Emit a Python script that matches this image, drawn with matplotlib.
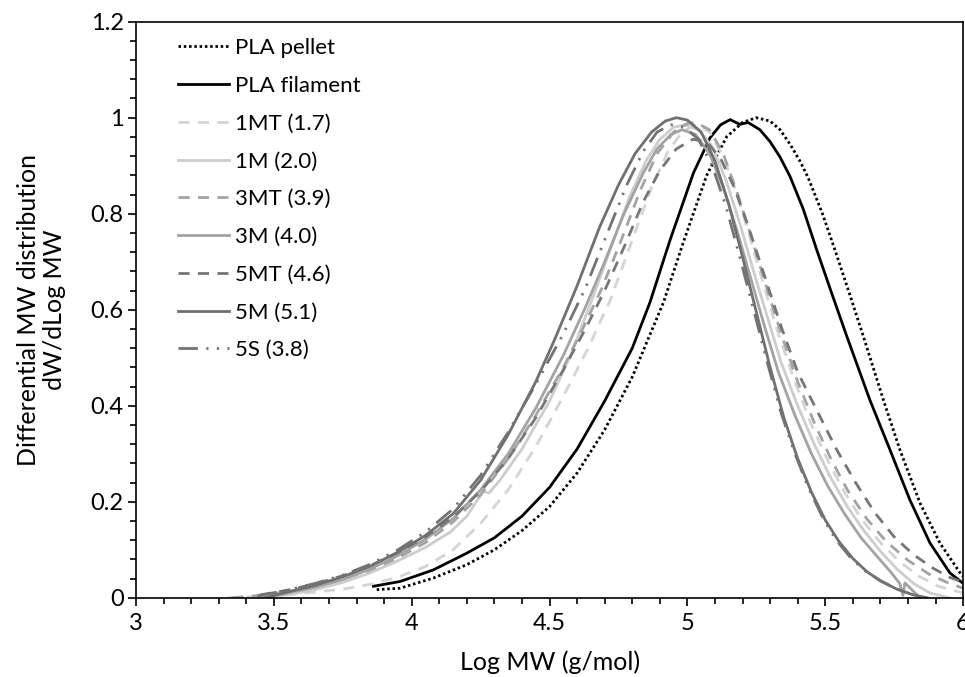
import matplotlib
matplotlib.use("Agg")
import matplotlib.pyplot as plt
from matplotlib.ticker import MultipleLocator

plt.rcParams['font.family'] = ['Lato', 'DejaVu Sans']

# curve data (log MW, dW/dLogMW)
pellet_x = [3.873, 3.958, 4.078, 4.2, 4.3, 4.4, 4.5, 4.6, 4.7, 4.8, 4.913, 4.985, 5.07, 5.142,
            5.2, 5.25, 5.3, 5.336, 5.372, 5.408, 5.438, 5.49, 5.535, 5.59, 5.638, 5.711, 5.771,
            5.844, 5.916, 5.989, 6.0]
pellet_y = [0.017, 0.02, 0.041, 0.069, 0.10, 0.14, 0.19, 0.26, 0.35, 0.46, 0.615, 0.74, 0.88, 0.96,
            0.99, 1.0, 0.993, 0.975, 0.945, 0.91, 0.875, 0.80, 0.725, 0.63, 0.545, 0.412, 0.308,
            0.197, 0.114, 0.052, 0.045]

filament_x = [3.861, 3.958, 4.078, 4.2, 4.3, 4.4, 4.5, 4.6, 4.7, 4.8, 4.864, 4.937, 5.022, 5.082,
              5.12, 5.155, 5.19, 5.22, 5.263, 5.3, 5.336, 5.372, 5.42, 5.469, 5.52, 5.578, 5.662,
              5.735, 5.807, 5.88, 5.952, 6.0]
filament_y = [0.024, 0.034, 0.058, 0.093, 0.125, 0.17, 0.23, 0.31, 0.41, 0.52, 0.615, 0.745, 0.885,
              0.958, 0.985, 0.996, 0.986, 0.99, 0.975, 0.95, 0.918, 0.878, 0.81, 0.725, 0.64, 0.545,
              0.412, 0.308, 0.204, 0.114, 0.052, 0.03]

mt1_x = [3.33, 3.45, 3.6, 3.75, 3.85, 3.95, 4.05, 4.15, 4.25, 4.35, 4.45, 4.55, 4.64, 4.72, 4.8,
         4.87, 4.93, 4.98, 5.03, 5.08, 5.13, 5.18, 5.23, 5.28, 5.33, 5.39, 5.45, 5.51, 5.57, 5.63,
         5.7, 5.77, 5.84, 5.91, 6.0]
mt1_y = [0.0, 0.003, 0.009, 0.018, 0.028, 0.043, 0.065, 0.10, 0.155, 0.225, 0.315, 0.42, 0.52, 0.62,
         0.745, 0.855, 0.93, 0.97, 0.985, 0.97, 0.92, 0.84, 0.745, 0.645, 0.55, 0.45, 0.36, 0.285,
         0.22, 0.165, 0.115, 0.075, 0.045, 0.024, 0.01]

m1_x = [3.45, 3.55, 3.65, 3.75, 3.85, 3.95, 4.05, 4.14, 4.2, 4.24, 4.26, 4.28, 4.32, 4.4, 4.5,
        4.58, 4.65, 4.72, 4.79, 4.85, 4.9, 4.95, 4.99, 5.04, 5.09, 5.14, 5.19, 5.24, 5.29, 5.34,
        5.4, 5.46, 5.52, 5.58, 5.64, 5.7, 5.76, 5.82, 5.88, 5.95]
m1_y = [0.0, 0.006, 0.017, 0.032, 0.052, 0.077, 0.105, 0.137, 0.17, 0.205, 0.222, 0.218, 0.245,
        0.31, 0.41, 0.51, 0.615, 0.725, 0.835, 0.91, 0.955, 0.98, 0.985, 0.975, 0.94, 0.87, 0.78,
        0.68, 0.585, 0.49, 0.40, 0.32, 0.25, 0.19, 0.14, 0.097, 0.06, 0.03, 0.01, 0.0]

mt3_x = [3.35, 3.45, 3.55, 3.65, 3.75, 3.85, 3.95, 4.05, 4.15, 4.25, 4.35, 4.45, 4.55, 4.62, 4.69,
         4.76, 4.83, 4.89, 4.95, 5.0, 5.03, 5.08, 5.13, 5.18, 5.23, 5.28, 5.34, 5.4, 5.46, 5.52,
         5.58, 5.65, 5.72, 5.8, 5.88, 5.95, 6.0]
mt3_y = [0.0, 0.005, 0.013, 0.024, 0.039, 0.058, 0.083, 0.115, 0.158, 0.215, 0.29, 0.38, 0.48, 0.56,
         0.645, 0.745, 0.85, 0.925, 0.97, 0.988, 0.99, 0.975, 0.925, 0.845, 0.755, 0.66, 0.55, 0.45,
         0.365, 0.29, 0.225, 0.165, 0.118, 0.078, 0.048, 0.03, 0.02]

m3_x = [3.45, 3.55, 3.65, 3.75, 3.85, 3.95, 4.05, 4.15, 4.25, 4.35, 4.45, 4.55, 4.63, 4.7, 4.77,
        4.84, 4.89, 4.94, 4.98, 5.03, 5.08, 5.13, 5.18, 5.23, 5.28, 5.33, 5.39, 5.45, 5.51, 5.57,
        5.63, 5.69, 5.74, 5.77, 5.782, 5.789, 5.844]
m3_y = [0.0, 0.01, 0.022, 0.038, 0.06, 0.088, 0.122, 0.165, 0.225, 0.30, 0.395, 0.505, 0.605, 0.70,
        0.80, 0.885, 0.935, 0.965, 0.975, 0.965, 0.925, 0.855, 0.765, 0.665, 0.565, 0.47, 0.38,
        0.30, 0.232, 0.175, 0.125, 0.085, 0.052, 0.03, 0.005, 0.031, 0.0]

mt5_x = [3.45, 3.55, 3.65, 3.75, 3.85, 3.95, 4.05, 4.15, 4.25, 4.35, 4.45, 4.55, 4.63, 4.7, 4.77,
         4.84, 4.9, 4.96, 5.02, 5.07, 5.12, 5.17, 5.22, 5.28, 5.34, 5.4, 5.47, 5.54, 5.61, 5.68,
         5.75, 5.82, 5.89, 5.95, 6.0]
mt5_y = [0.006, 0.016, 0.029, 0.046, 0.067, 0.094, 0.127, 0.168, 0.222, 0.29, 0.375, 0.475, 0.56,
         0.64, 0.73, 0.825, 0.89, 0.935, 0.955, 0.95, 0.915, 0.855, 0.775, 0.67, 0.565, 0.47, 0.39,
         0.31, 0.24, 0.177, 0.127, 0.09, 0.062, 0.043, 0.032]

m5_x = [3.47, 3.55, 3.65, 3.75, 3.85, 3.95, 4.05, 4.15, 4.25, 4.35, 4.45, 4.52, 4.6, 4.68, 4.75,
        4.81, 4.87, 4.92, 4.96, 5.0, 5.05, 5.1, 5.15, 5.2, 5.25, 5.3, 5.35, 5.4, 5.45, 5.5, 5.55,
        5.6, 5.65, 5.7, 5.76, 5.82, 5.87]
m5_y = [0.0, 0.012, 0.026, 0.044, 0.066, 0.095, 0.13, 0.175, 0.245, 0.34, 0.45, 0.54, 0.65, 0.77,
        0.86, 0.925, 0.97, 0.993, 1.0, 0.995, 0.97, 0.91, 0.82, 0.71, 0.595, 0.48, 0.375, 0.29,
        0.22, 0.162, 0.117, 0.082, 0.055, 0.035, 0.018, 0.006, 0.0]

s5_x = [3.44, 3.55, 3.65, 3.75, 3.85, 3.95, 4.05, 4.15, 4.25, 4.35, 4.45, 4.55, 4.63, 4.71, 4.78,
        4.84, 4.89, 4.94, 4.99, 5.04, 5.09, 5.14, 5.19, 5.24, 5.29, 5.34, 5.39, 5.44, 5.49, 5.54,
        5.59, 5.64, 5.7, 5.76, 5.82, 5.86]
s5_y = [0.004, 0.016, 0.03, 0.047, 0.07, 0.10, 0.137, 0.185, 0.255, 0.345, 0.445, 0.55, 0.645, 0.76,
        0.86, 0.93, 0.97, 0.985, 0.98, 0.955, 0.90, 0.815, 0.71, 0.60, 0.49, 0.385, 0.30, 0.228,
        0.168, 0.12, 0.085, 0.058, 0.036, 0.018, 0.006, 0.0]

fig = plt.figure(figsize=(9.65, 6.77), dpi=100)
ax = fig.add_axes([0.141, 0.117, 0.857, 0.851])

ax.plot(pellet_x, pellet_y, color='black', lw=2.0, ls=(0, (0.9, 1.0)), label='PLA pellet')
ax.plot(filament_x, filament_y, color='black', lw=2.0, label='PLA filament')
ax.plot(mt1_x, mt1_y, color='#d4d4d4', lw=2.0, ls=(0, (4, 3)), label='1MT (1.7)')
ax.plot(m1_x, m1_y, color='#cdcdcd', lw=2.0, label='1M (2.0)')
ax.plot(mt3_x, mt3_y, color='#a3a3a3', lw=2.0, ls=(0, (4, 3)), label='3MT (3.9)')
ax.plot(m3_x, m3_y, color='#a3a3a3', lw=2.0, label='3M (4.0)')
ax.plot(mt5_x, mt5_y, color='#767676', lw=2.0, ls=(0, (4, 3)), label='5MT (4.6)')
ax.plot(m5_x, m5_y, color='#707070', lw=2.0, label='5M (5.1)')
ax.plot(s5_x, s5_y, color='#737373', lw=2.0, ls=(0, (7, 3, 0.8, 3, 0.8, 3)), label='5S (3.8)')

ax.set_xlim(3, 6)
ax.set_ylim(0, 1.2)
ax.set_xticks([3, 3.5, 4, 4.5, 5, 5.5, 6])
ax.set_xticklabels(['3', '3.5', '4', '4.5', '5', '5.5', '6'])
ax.set_yticks([0, 0.2, 0.4, 0.6, 0.8, 1.0, 1.2])
ax.set_yticklabels(['0', '0.2', '0.4', '0.6', '0.8', '1', '1.2'])
ax.xaxis.set_minor_locator(MultipleLocator(0.1))
ax.yaxis.set_minor_locator(MultipleLocator(0.04))
ax.tick_params(which='major', direction='out', length=6, width=1.2, labelsize=17, colors='black')
ax.tick_params(axis='y', which='major', pad=3)
ax.tick_params(axis='x', which='major', pad=5)
ax.tick_params(which='minor', direction='out', length=4, width=1.2)
for s in ax.spines.values():
    s.set_linewidth(1.2)

ax.set_xlabel('Log MW (g/mol)', fontsize=18)
ax.xaxis.set_label_coords(0.5, -0.092)
ax.set_ylabel('Differential MW distribution\ndW/dLog MW', fontsize=18, linespacing=1.15)
ax.yaxis.set_label_coords(-0.085, 0.5)

ax.legend(loc='upper left', frameon=False, fontsize=16, handlelength=2.3, handletextpad=0.25,
          labelspacing=0.8, borderaxespad=0.0, bbox_to_anchor=(0.04, 0.987))

fig.savefig('out.png', dpi=100)
